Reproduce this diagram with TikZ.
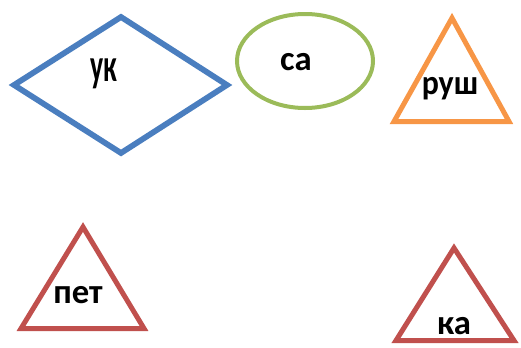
\documentclass[tikz,border=0pt]{standalone}
\usepackage{fontspec}
\setmainfont{Carlito}
\usepackage{graphicx}

\definecolor{bleuoffice}{HTML}{4A7EBF}
\definecolor{vertoffice}{HTML}{9BBB59}
\definecolor{orangeoffice}{HTML}{F79646}
\definecolor{rougeoffice}{HTML}{C0504D}

\tikzstyle{forme} = [line width=3.75pt, line join=miter, miter limit=10]
\tikzstyle{etiquette} = [inner sep=0pt, text=black, font=\bfseries\fontsize{26}{26}\selectfont]

\begin{document}
\begin{tikzpicture}[x=0.75pt, y=-0.75pt]

    \useasboundingbox (0,0) rectangle (521,347);

    %  formes
    \draw[forme, bleuoffice, line width=4.3pt] (14,85) -- (121,17) -- (227,85) -- (121,153) -- cycle;
    \draw[forme, vertoffice, line width=3pt] (305,61) ellipse (68 and 47);
    \draw[forme, orangeoffice] (452,18) -- (509,121.5) -- (394,121.5) -- cycle;

    %-------------------------------------------------------------
    \draw[forme, rougeoffice] (83,227) -- (144,328.5) -- (21,328.5) -- cycle;
    \draw[forme, rougeoffice] (454,248) -- (514,340.5) -- (396,340.5) -- cycle;

    %  etiquettes
    \node[etiquette] (uk) at (104,73.5) {\scalebox{0.8}[1.35]{ук}};
    \node[etiquette] (sa) at (296,62.5) {са};
    \node[etiquette] (rush) at (450,88.5) {\scalebox{0.92}[1]{руш}};

    %-------------------------------------------------------------
    \node[etiquette] (pet) at (78,295) {пет};
    \node[etiquette] (ka) at (454,326.5) {ка};

\end{tikzpicture}
\end{document}
